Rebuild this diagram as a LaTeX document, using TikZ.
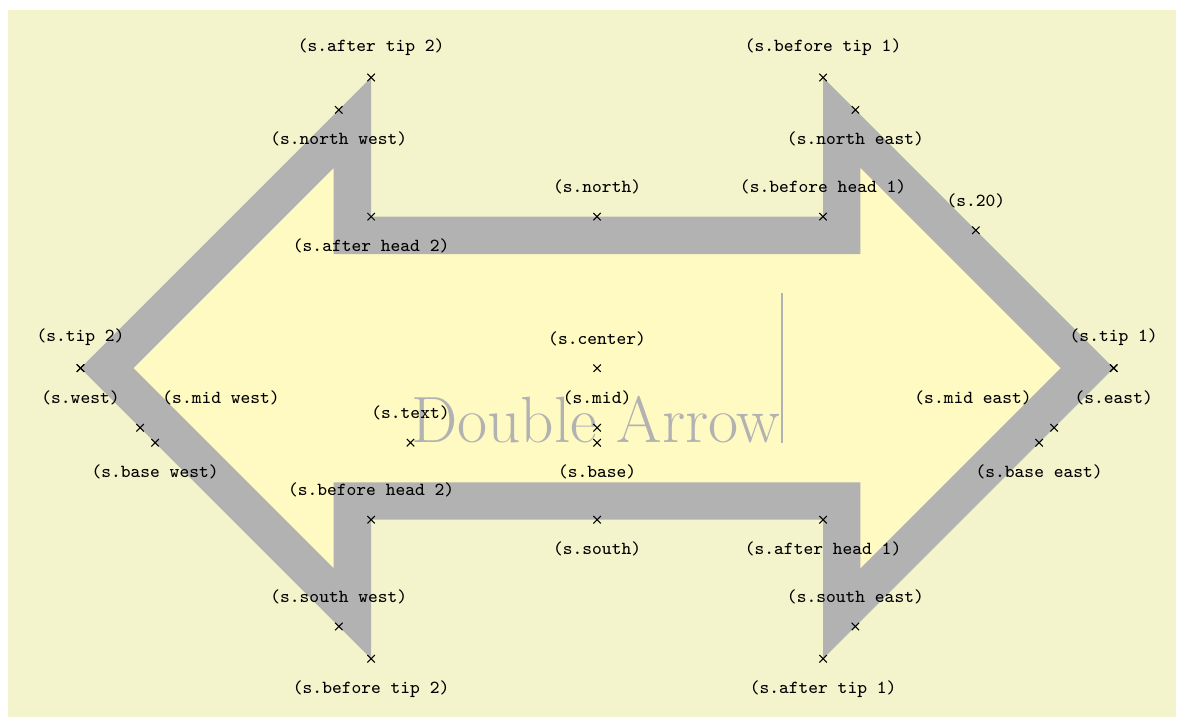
\documentclass[tikz,border=0pt]{standalone}
\usetikzlibrary{calc}
\definecolor{paper}{HTML}{F3F4CC}
\definecolor{arrowfill}{HTML}{FFF9C2}

\begin{document}
\begin{tikzpicture}[
 shapebox/.style={draw=black!30,fill=arrowfill,line width=.5cm},
 shapetext/.style={text=black!30,font=\Huge,inner sep=0pt},
 anchorlabel/.style={font=\scriptsize\ttfamily,text=black,inner sep=8.3pt}]
\def\xb{3.27}\def\ys{1.775}\def\yh{3.28}\def\tipx{6.55}
\def\os{0.25}\def\om{0.354}
\useasboundingbox (-7.98,-4.71) rectangle (7.83,4.92);
\fill[paper] (-7.87,-4.66) rectangle (7.73,4.79);
% the double arrow outline
\draw[shapebox] (-\tipx,0) -- (-\xb,\yh) -- (-\xb,\ys) -- (\xb,\ys) -- (\xb,\yh) -- (\tipx,0)
 -- (\xb,-\yh) -- (\xb,-\ys) -- (-\xb,-\ys) -- (-\xb,-\yh) -- cycle;
\node[shapetext] (s) at (0,0) {Double Arrow\vrule width 1pt height 2cm};
% anchor points on the outer border
\coordinate (p-center) at (s.center);
\coordinate (p-text) at (s.base west);
\coordinate (p-mid) at ($(s.base)+(0,0.2)$);
\coordinate (p-base) at (s.base);
\coordinate (p-tip 1) at ({\tipx+\om},0);
\coordinate (p-east) at ({\tipx+\om},0);
\coordinate (p-tip 2) at ({-\tipx-\om},0);
\coordinate (p-west) at ({-\tipx-\om},0);
\coordinate (p-before tip 1) at ({\xb-\os},{\tipx+\om-\xb+\os});
\coordinate (p-after tip 1) at ({\xb-\os},{-\tipx-\om+\xb-\os});
\coordinate (p-before tip 2) at ({-\xb+\os},{-\tipx-\om+\xb-\os});
\coordinate (p-after tip 2) at ({-\xb+\os},{\tipx+\om-\xb+\os});
\coordinate (p-before head 1) at ({\xb-\os},{\ys+\os});
\coordinate (p-after head 1) at ({\xb-\os},{-\ys-\os});
\coordinate (p-before head 2) at ({-\xb+\os},{-\ys-\os});
\coordinate (p-after head 2) at ({-\xb+\os},{\ys+\os});
\coordinate (p-north) at (0,{\ys+\os});
\coordinate (p-south) at (0,{-\ys-\os});
\coordinate (p-north east) at ({(\tipx+\om)/2},{(\tipx+\om)/2});
\coordinate (p-north west) at ({-(\tipx+\om)/2},{(\tipx+\om)/2});
\coordinate (p-south east) at ({(\tipx+\om)/2},{-(\tipx+\om)/2});
\coordinate (p-south west) at ({-(\tipx+\om)/2},{-(\tipx+\om)/2});
\coordinate (p-20) at ({(\tipx+\om)/(1+tan(20))},{(\tipx+\om)*tan(20)/(1+tan(20))});
\path let \p1=(p-mid), \p2=(s.base) in
 coordinate (p-mid east) at ({(\tipx+\om)*1cm+\y1},\y1)
 coordinate (p-mid west) at ({-(\tipx+\om)*1cm-\y1},\y1)
 coordinate (p-base east) at ({(\tipx+\om)*1cm+\y2},\y2)
 coordinate (p-base west) at ({-(\tipx+\om)*1cm-\y2},\y2);
% marks and labels
\foreach \anc/\where in {center/above, text/above, 20/above, mid/above,
 mid east/above left, mid west/above right, base/below, base east/below, base west/below,
 tip 1/above, before tip 1/above, after tip 1/below, tip 2/above, before tip 2/below,
 after tip 2/above, before head 1/above, after head 1/below, before head 2/above,
 after head 2/below, north/above, south/below, east/below, west/below,
 north east/below, south east/above, north west/below, south west/above}
 \draw[shift=(p-\anc)] plot[mark=x] coordinates{(0,0)} node[anchorlabel,\where] {(s.\anc)};
\end{tikzpicture}
\end{document}
